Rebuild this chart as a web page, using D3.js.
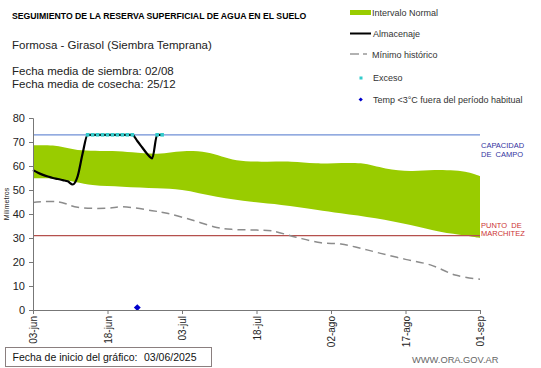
<!DOCTYPE html>
<html><head><meta charset="utf-8">
<script src="https://cdn.jsdelivr.net/npm/d3@7"></script>
<style>
html,body{margin:0;padding:0;background:#fff;}
svg{display:block;font-family:"Liberation Sans",Arial,sans-serif;}
</style></head>
<body>
<svg id="chart" width="541" height="368"></svg>
<script>
// ---- data (day index 0 = 03-jun-2025) ----
const tickDays = [0, 15, 30, 45, 60, 75, 90];
const tickLabels = ["03-jun", "18-jun", "03-jul", "18-jul", "02-ago", "17-ago", "01-sep"];
const yTicks = [0, 10, 20, 30, 40, 50, 60, 70, 80];

const bandUpperDays = [0, 4, 9, 16, 20, 25, 31, 35, 38, 41, 46, 52, 57, 66, 71, 76, 81, 87, 90];
const bandUpperVals = [68.6, 68.5, 66.7, 66.2, 65.7, 65.1, 66.2, 65.6, 64.0, 62.4, 61.8, 61.8, 61.1, 61.1, 59.0, 57.9, 58.3, 57.6, 55.8];
const bandLowerDays = [0, 5, 12, 18, 25, 30, 37, 44, 50, 57, 62, 69, 76, 82, 87, 90];
const bandLowerVals = [54.9, 54.6, 52.1, 51.4, 50.7, 50.0, 47.2, 45.1, 43.8, 41.8, 40.3, 38.2, 35.4, 32.6, 31.0, 30.0];

const minDays = [0, 5, 9, 15, 18, 24, 27, 32, 37, 40, 45, 48, 53, 58, 62, 66, 70, 75, 80, 85, 90];
const minVals = [44.8, 45.1, 42.8, 42.4, 43.0, 41.4, 40.3, 37.5, 34.4, 33.6, 33.3, 33.0, 30.3, 28.0, 27.5, 25.7, 23.6, 21.1, 18.8, 14.6, 12.8];

const almDays = [0, 1, 2, 3, 4, 5, 6, 7, 8, 9, 10, 11, 12, 13, 14, 15, 16, 17, 18, 19, 20, 21, 22, 23, 24, 25, 26];
const almVals = [58.3, 57.2, 56.3, 55.6, 55.0, 54.6, 54.1, 53.6, 52.3, 55.8, 65.3, 73, 73, 73, 73, 73, 73, 73, 73, 73, 73, 70.4, 67.7, 65.0, 63.2, 73, 73];

const excesoDays = [11, 12, 13, 14, 15, 16, 17, 18, 19, 20, 25, 26];
const excesoVals = [73, 73, 73, 73, 73, 73, 73, 73, 73, 73, 73, 73];

const tempDays = [21];
const tempVals = [1];

const capacidad = 73;
const marchitez = 31;

// ---- layout ----
const svg = d3.select("#chart");
const x = d3.scaleLinear().domain([0, 90]).range([33, 480]);
const y = d3.scaleLinear().domain([0, 80]).range([310, 118]);

// texts header
svg.append("text").attr("x", 12).attr("y", 18.5).attr("font-size", 8.7).attr("font-weight", "bold")
  .attr("fill", "#000").text("SEGUIMIENTO DE LA RESERVA SUPERFICIAL DE AGUA EN EL SUELO");
svg.append("text").attr("x", 12).attr("y", 49).attr("font-size", 11.5).attr("fill", "#222")
  .text("Formosa - Girasol (Siembra Temprana)");
svg.append("text").attr("x", 12).attr("y", 75).attr("font-size", 11.5).attr("fill", "#222")
  .text("Fecha media de siembra: 02/08");
svg.append("text").attr("x", 12).attr("y", 87.5).attr("font-size", 11.5).attr("fill", "#222")
  .text("Fecha media de cosecha: 25/12");

// legend
const lg = svg.append("g").attr("font-size", 9).attr("fill", "#333");
lg.append("rect").attr("x", 350).attr("y", 10).attr("width", 21).attr("height", 5).attr("fill", "#99CC00");
lg.append("text").attr("x", 372).attr("y", 15.5).text("Intervalo Normal");
lg.append("line").attr("x1", 350).attr("x2", 371).attr("y1", 33.5).attr("y2", 33.5).attr("stroke", "#000").attr("stroke-width", 2);
lg.append("text").attr("x", 373).attr("y", 37).text("Almacenaje");
lg.append("line").attr("x1", 350).attr("x2", 359).attr("y1", 54).attr("y2", 54).attr("stroke", "#999").attr("stroke-width", 1.5);
lg.append("line").attr("x1", 363).attr("x2", 367).attr("y1", 54).attr("y2", 54).attr("stroke", "#999").attr("stroke-width", 1.5);
lg.append("text").attr("x", 372).attr("y", 57.5).text("Mínimo histórico");
lg.append("rect").attr("x", 359.5).attr("y", 76.5).attr("width", 3).attr("height", 3).attr("fill", "#33CCCC");
lg.append("text").attr("x", 373).attr("y", 80.5).text("Exceso");
lg.append("path").attr("d", d3.symbol(d3.symbolSquare, 9)()).attr("transform", "translate(360.7,99.5) rotate(45)").attr("fill", "#0000CC");
lg.append("text").attr("x", 373).attr("y", 102.5).text("Temp <3°C fuera del período habitual");

// band
const upperPts = bandUpperDays.map((d, i) => [x(d), y(bandUpperVals[i])]);
const lowerPts = bandLowerDays.map((d, i) => [x(d), y(bandLowerVals[i])]).reverse();
const lineGen = d3.line().curve(d3.curveCatmullRom.alpha(0.5));
const bandPath = lineGen(upperPts) + "L" + lineGen(lowerPts).slice(1) + "Z";
svg.append("path").attr("d", bandPath).attr("fill", "#99CC00");

// reference lines
svg.append("line").attr("x1", x(0)).attr("x2", x(90)).attr("y1", y(capacidad)).attr("y2", y(capacidad))
  .attr("stroke", "#6F8FD6").attr("stroke-width", 1.2);
svg.append("line").attr("x1", x(0)).attr("x2", x(90)).attr("y1", y(marchitez)).attr("y2", y(marchitez))
  .attr("stroke", "#B5504D").attr("stroke-width", 1.2);

svg.append("text").attr("x", 481).attr("y", 147.5).attr("font-size", 7.5).attr("fill", "#3333A0").text("CAPACIDAD");
svg.append("text").attr("x", 481).attr("y", 156.5).attr("font-size", 7.5).attr("fill", "#3333A0").attr("xml:space", "preserve").text("DE  CAMPO");
svg.append("text").attr("x", 481).attr("y", 227.5).attr("font-size", 7.5).attr("fill", "#CC3333").attr("xml:space", "preserve").text("PUNTO  DE");
svg.append("text").attr("x", 481).attr("y", 236).attr("font-size", 7.5).attr("fill", "#CC3333").text("MARCHITEZ");

// minimum historic
svg.append("path")
  .attr("d", d3.line().x((d, i) => x(minDays[i])).y((d, i) => y(minVals[i])).curve(d3.curveCatmullRom.alpha(0.5))(minVals))
  .attr("fill", "none").attr("stroke", "#8C8C8C").attr("stroke-width", 1.5).attr("stroke-dasharray", "8,5");

// almacenaje
svg.append("path")
  .attr("d", d3.line().x((d, i) => x(almDays[i])).y((d, i) => y(almVals[i])).curve(d3.curveMonotoneX)(almVals))
  .attr("fill", "none").attr("stroke", "#000").attr("stroke-width", 2.2);

// exceso
svg.append("g").selectAll("rect").data(excesoDays).join("rect")
  .attr("x", (d) => x(d) - 1.8).attr("y", (d, i) => y(excesoVals[i]) - 1.8)
  .attr("width", 3.6).attr("height", 3.6).attr("fill", "#33CCCC");

// temp
svg.append("g").selectAll("path").data(tempDays).join("path")
  .attr("d", d3.symbol(d3.symbolSquare, 24)())
  .attr("transform", (d, i) => `translate(${x(d)},${y(tempVals[i])}) rotate(45)`)
  .attr("fill", "#0000CC");

// axes
const yAxis = svg.append("g").attr("transform", "translate(33,0)")
  .call(d3.axisLeft(y).tickValues(yTicks).tickSize(4).tickPadding(4));
yAxis.selectAll("text").attr("font-size", 11).attr("fill", "#222").attr("font-family", "Liberation Sans, Arial");
yAxis.selectAll("line,path").attr("stroke", "#777");

const xAxis = svg.append("g").attr("transform", "translate(0,310)")
  .call(d3.axisBottom(x).tickValues(tickDays).tickFormat((d, i) => tickLabels[i]).tickSize(4).tickSizeOuter(0));
xAxis.selectAll("line,path").attr("stroke", "#777");
xAxis.selectAll("text").attr("font-size", 10).attr("fill", "#222").attr("font-family", "Liberation Sans, Arial")
  .attr("transform", "rotate(-90)").attr("text-anchor", "end").attr("dx", "-6").attr("dy", "0").attr("x", 0).attr("y", 0)
  .attr("dominant-baseline", "central");

svg.append("text").attr("transform", "translate(9,204) rotate(-90)").attr("text-anchor", "middle")
  .attr("font-size", 7).attr("fill", "#222").text("Milímetros");

// footer
svg.append("rect").attr("x", 5.5).attr("y", 347.5).attr("width", 206).attr("height", 19)
  .attr("fill", "#fff").attr("stroke", "#8A7F7F").attr("stroke-width", 1);
svg.append("text").attr("x", 12.5).attr("y", 361).attr("font-size", 10.5).attr("fill", "#111")
  .text("Fecha de inicio del gráfico:");
svg.append("text").attr("x", 144).attr("y", 361).attr("font-size", 10.5).attr("fill", "#111").text("03/06/2025");
svg.append("text").attr("x", 412).attr("y", 363).attr("font-size", 9.3).attr("fill", "#666").text("WWW.ORA.GOV.AR");
</script>
</body></html>
